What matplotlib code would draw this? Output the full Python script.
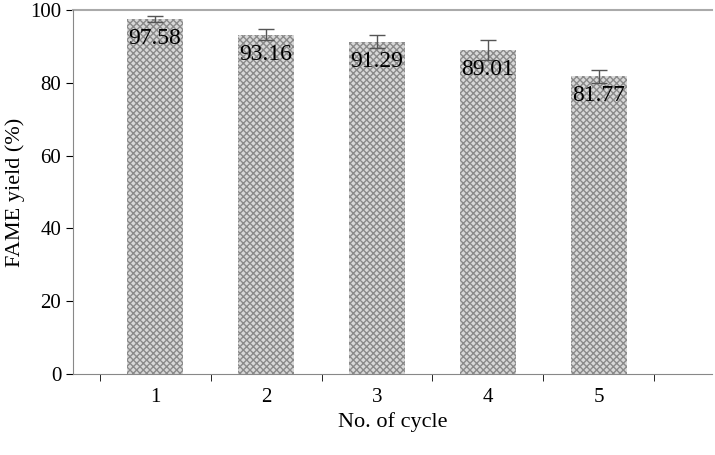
import numpy as np
import matplotlib.pyplot as plt

plt.rcParams['font.family'] = 'Liberation Serif'

cycles = [1, 2, 3, 4, 5]
yields = [97.58, 93.16, 91.29, 89.01, 81.77]
errors = [0.8, 1.5, 1.8, 2.8, 1.8]

fig = plt.figure(figsize=[7.15, 4.55], dpi=100)
ax = fig.add_axes([73/715, 81/455, 639/715, 364/455])

x = np.array(cycles)
ax.bar(x, yields, 0.51, color='#d8d8d8', edgecolor='#8a8a8a', hatch='xxxxx', linewidth=0,
       yerr=errors, error_kw=dict(ecolor='#555555', elinewidth=1, capsize=6, capthick=1))
for xi, v in zip(x, yields):
    ax.text(xi, v - 2.5, f'{v:.2f}', ha='center', va='top', fontsize=17)

ax.axhline(100, color='#aaaaaa', linewidth=1.5, clip_on=False)
ax.set_xlim(0.26, 6.02)
ax.set_ylim(0, 100)
ax.set_yticks(range(0, 101, 20))
ax.set_xticks(x)
ax.set_xticks(np.arange(0.5, 6.0, 1), minor=True)
ax.tick_params(axis='x', which='major', length=0, labelsize=15, pad=10)
ax.tick_params(axis='x', which='minor', length=5, direction='out')
ax.tick_params(axis='y', labelsize=15, length=5)
ax.set_xlabel('No. of cycle', fontsize=16)
ax.set_ylabel('FAME yield (%)', fontsize=16)
for s in ['top', 'right']:
    ax.spines[s].set_visible(False)
for s in ['left', 'bottom']:
    ax.spines[s].set_color('#888888')

fig.savefig('out.png', dpi=100)
